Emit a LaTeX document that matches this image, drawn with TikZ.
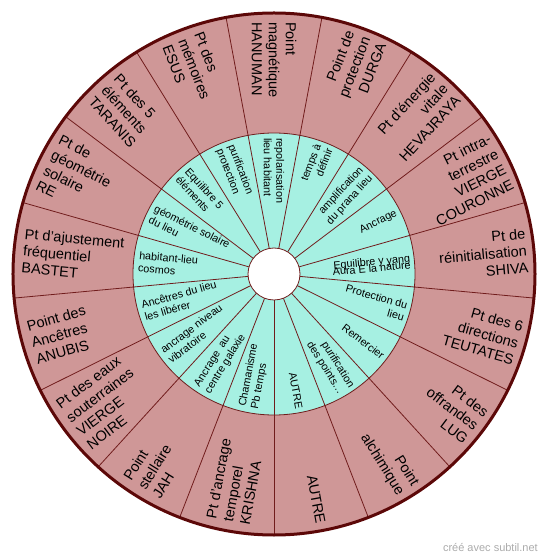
\documentclass[tikz,border=0pt]{standalone}
\usepackage{fontspec}
\setmainfont{Liberation Sans}
\usepackage{tikz}
\usetikzlibrary{calc}
\definecolor{wheelrose}{RGB}{207,151,151}
\definecolor{wheelaqua}{RGB}{166,240,226}
\definecolor{wheelline}{RGB}{112,28,28}
\definecolor{wheelrim}{RGB}{92,8,8}
\tikzset{
  spoke/.style={wheelline,line width=0.8pt},
  rim/.style={wheelrim,line width=3pt},
  outerlbl/.style={inner sep=0pt,font=\fontsize{14.5}{17}\selectfont},
  innerlbl/.style={inner sep=0pt,font=\fontsize{10.8}{12.5}\selectfont},
  credit/.style={inner sep=0pt,text=black!33,font=\fontsize{11}{13}\selectfont}
}

\begin{document}
\begin{tikzpicture}[x=1pt,y=1pt]
  \useasboundingbox (-274,-285) rectangle (276,274);
  % discs
  \fill[wheelrose] (0,0) circle (261);
  \fill[wheelaqua] (0,0) circle (141);
  % spokes, 17 sectors
  \foreach \k in {0,...,16}
    \draw[spoke] (-90+\k*360/17:26) -- (-90+\k*360/17:261);
  \draw[spoke] (0,0) circle (141);
  \filldraw[fill=white,draw=wheelline,line width=0.8pt] (0,0) circle (26);
  \draw[rim] (0,0) circle (261);
  % right half: outer labels
  \foreach \k/\txt in {0/{AUTRE},1/{Point\\alchimique},2/{Pt des\\offrandes\\LUG},
      3/{Pt des 6\\directions\\TEUTATES},4/{Pt de\\réinitialisation\\SHIVA},
      5/{Pt intra-\\terrestre\\VIERGE\\COURONNE},6/{Pt d'énergie\\vitale\\HEVAJRAYA},
      7/{Point de\\protection\\DURGA}}{
    \pgfmathsetmacro\ang{-90+(\k+0.5)*360/17}
    \node[outerlbl,anchor=east,align=right,rotate=\ang] (out\k) at (\ang:254) {\txt};
  }
  % left half: outer labels
  \foreach \k/\txt in {8/{Point\\magnétique\\HANUMAN},9/{Pt des\\mémoires\\ESUS},
      10/{Pt des 5\\éléments\\TARANIS},11/{Pt de\\géométrie\\solaire\\RE},
      12/{Pt d'ajustement\\fréquentiel\\BASTET},13/{Point des\\Ancêtres\\ANUBIS},
      14/{Pt des eaux\\souterraines\\VIERGE\\NOIRE},15/{Point\\stellaire\\JAH},
      16/{Pt d'ancrage\\temporel\\KRISHNA}}{
    \pgfmathsetmacro\ang{-90+(\k+0.5)*360/17}
    \node[outerlbl,anchor=west,align=left,rotate=\ang-180] (out\k) at (\ang:252) {\txt};
  }
  % right half: inner labels
  \foreach \k/\txt in {0/{AUTRE},1/{purification\\des points\dots},2/{Remercier},
      3/{Protection du\\lieu},4/{Equilibre y yang\\[-6pt]Aura E la nature},
      5/{Ancrage},6/{amplification\\du prana lieu},7/{temps à\\définir}}{
    \pgfmathsetmacro\ang{-90+(\k+0.5)*360/17}
    \node[innerlbl,anchor=east,align=right,rotate=\ang] (in\k) at (\ang:137) {\txt};
  }
  % left half: inner labels
  \foreach \k/\txt in {8/{repolarisation\\lieu habitant},9/{purification\\protection},
      10/{Equilibre 5\\éléments},11/{géométrie solaire\\du lieu},
      12/{habitant-lieu\\cosmos},13/{Ancêtres du lieu\\les libérer},
      14/{ancrage niveau\\vibratoire},15/{Ancrage~ au\\centre galaxie},
      16/{Chamanisme\\Pb temps}}{
    \pgfmathsetmacro\ang{-90+(\k+0.5)*360/17}
    \node[innerlbl,anchor=west,align=left,rotate=\ang-180] (in\k) at (\ang:136) {\txt};
  }
  \node[credit,anchor=base east] (credit) at (264,-277) {créé avec subtil.net};
\end{tikzpicture}
\end{document}
